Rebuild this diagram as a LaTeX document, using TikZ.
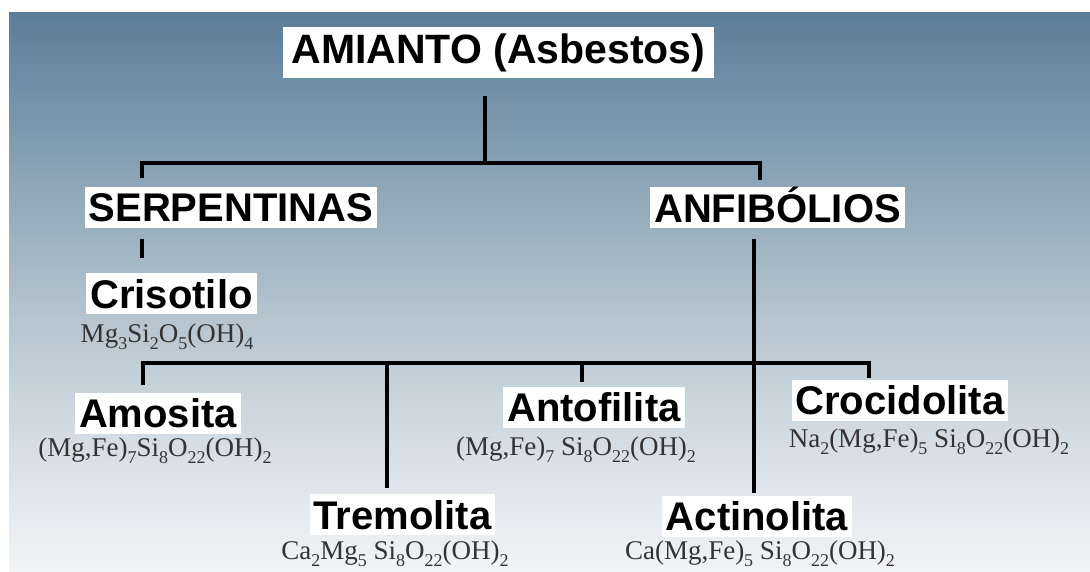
\documentclass[tikz,border=0pt]{standalone}
\usepackage{fontspec}
\setmainfont{Liberation Serif}
\setsansfont{Liberation Sans}
\definecolor{bgA}{HTML}{F2F4F6}
\definecolor{bgB}{HTML}{DCE3E8}
\definecolor{bgC}{HTML}{B6C5D0}
\definecolor{bgD}{HTML}{8AA3B5}
\definecolor{bgE}{HTML}{5C7D98}
\definecolor{fmgray}{HTML}{333333}
\pgfdeclareverticalshading{bgshade}{100bp}{color(0bp)=(bgA); color(25bp)=(bgA); color(33.9bp)=(bgB); color(47.4bp)=(bgC); color(60.8bp)=(bgD); color(75bp)=(bgE); color(100bp)=(bgE)}
\newcommand\fsb[1]{\raisebox{-7pt}{\fontsize{18}{18}\selectfont #1}}
\begin{document}
\begin{tikzpicture}[x=1pt,y=-1pt,
  hd/.style={fill=white, anchor=base, inner xsep=4pt, inner ysep=0pt, text height=35pt, text depth=6pt,
    font=\fontsize{40}{40}\selectfont\sffamily\bfseries},
  fm/.style={anchor=base, inner sep=0pt, text=fmgray, font=\fontsize{27}{27}\selectfont},
  ln/.style={line width=3.2pt, line cap=rect}]
\fill[white] (0,0) rectangle (1090,571);
\shade[shading=bgshade] (9,12) rectangle (1090,571);
\useasboundingbox (0,0) rectangle (1090,571);

% headings
\node[hd, inner xsep=9pt, text height=36pt, text depth=15pt, font=\fontsize{41}{41}\selectfont\sffamily\bfseries]
  (title) at (498.5,63) {AMIANTO (Asbestos)};
\node[hd] (serp) at (231,221.5) {SERPENTINAS};
\node[hd] (anf) at (777.5,222) {ANFIBÓLIOS};
\node[hd] (criso) at (171.5,308) {Crisotilo};
\node[hd] (amo) at (158,427.5) {Amosita};
\node[hd] (anto) at (594,421.5) {Antofilita};
\node[hd] (croc) at (900,414.5) {Crocidolita};
\node[hd] (tremo) at (402.5,529) {Tremolita};
\node[hd] (acti) at (757,530.5) {Actinolita};

% formulas
\node[fm] (fcriso) at (167,342) {Mg\fsb{3}Si\fsb{2}O\fsb{5}(OH)\fsb{4}};
\node[fm] (famo) at (155,456) {(Mg,Fe)\fsb{7}Si\fsb{8}O\fsb{22}(OH)\fsb{2}};
\node[fm] (fanto) at (576,455) {(Mg,Fe)\fsb{7} Si\fsb{8}O\fsb{22}(OH)\fsb{2}};
\node[fm] (fcroc) at (929,447) {Na\fsb{2}(Mg,Fe)\fsb{5} Si\fsb{8}O\fsb{22}(OH)\fsb{2}};
\node[fm] (ftremo) at (395,559) {Ca\fsb{2}Mg\fsb{5} Si\fsb{8}O\fsb{22}(OH)\fsb{2}};
\node[fm] (facti) at (760,559) {Ca(Mg,Fe)\fsb{5} Si\fsb{8}O\fsb{22}(OH)\fsb{2}};

% junctions
\coordinate (j0) at (485,163);
\coordinate (hl) at (142,163);
\coordinate (hr) at (760,163);
\coordinate (k0) at (143,363);
\coordinate (kr) at (869,363);
\coordinate (kt) at (387,363);
\coordinate (ka) at (582,363);
\coordinate (av) at (754,363);

% connectors
\draw[ln, shorten <=19pt] (title.south -| j0) -- (j0);
\draw[ln] (hl) -- (hr);
\draw[ln, shorten >=10pt] (hl) -- (hl |- serp.north);
\draw[ln, shorten >=8pt] (hr) -- (hr |- anf.north);
\draw[ln, shorten <=13pt, shorten >=16pt] (serp.south -| hl) -- (hl |- criso.north);
\draw[ln, shorten <=12pt, shorten >=4pt] (anf.south -| av) -- (av |- acti.north);
\draw[ln] (k0) -- (kr);
\draw[ln, shorten >=9pt] (k0) -- (k0 |- amo.north);
\draw[ln, shorten >=7pt] (kt) -- (kt |- tremo.north);
\draw[ln, shorten >=6pt] (ka) -- (ka |- anto.north);
\draw[ln, shorten >=3pt] (kr) -- (kr |- croc.north);
\end{tikzpicture}
\end{document}
